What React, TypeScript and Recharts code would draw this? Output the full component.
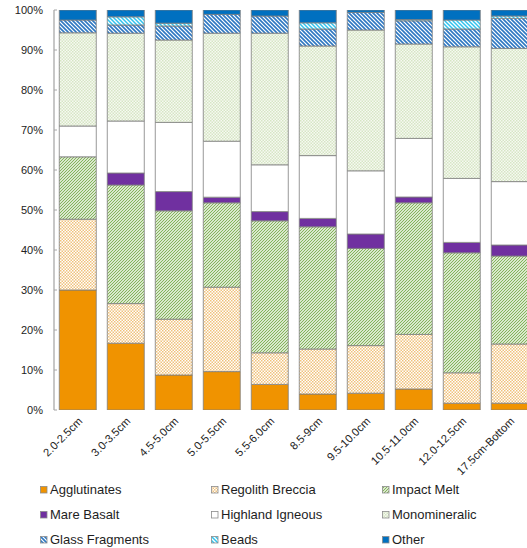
import React from "react";
import { Bar, BarChart, XAxis, YAxis } from "recharts";

// Depth intervals down the core
const depths = [
  "2.0-2.5cm",
  "3.0-3.5cm",
  "4.5-5.0cm",
  "5.0-5.5cm",
  "5.5-6.0cm",
  "8.5-9cm",
  "9.5-10.0cm",
  "10.5-11.0cm",
  "12.0-12.5cm",
  "17.5cm-Bottom",
];

// Percent of particles per component type, one value per depth
const agglutinates = [30, 16.7, 8.75, 9.6, 6.4, 4, 4.2, 5.25, 1.7, 1.7];
const regolithBreccia = [17.7, 9.9, 13.95, 21.1, 7.9, 11.25, 11.9, 13.65, 7.6, 14.8];
const impactMelt = [15.6, 29.65, 27.1, 21.1, 33.0, 30.55, 24.3, 32.9, 30.0, 22.0];
const mareBasalt = [0, 3.0, 4.8, 1.4, 2.3, 2.1, 3.6, 1.45, 2.6, 2.75];
const highlandIgneous = [7.7, 13.0, 17.3, 14.0, 11.7, 15.7, 15.8, 14.65, 16.0, 15.85];
const monomineralic = [23.3, 21.95, 20.6, 27.0, 32.9, 27.4, 35.2, 23.6, 32.9, 33.3];
const glassFragments = [3.2, 2.05, 3.5, 4.7, 4.3, 4.25, 4.4, 5.8, 4.45, 7.5];
const beads = [0, 2.05, 0.7, 0, 0, 1.55, 0, 0.3, 2.25, 0.6];
const other = [2.5, 1.7, 3.3, 1.1, 1.5, 3.2, 0.6, 2.4, 2.5, 1.5];

const yTicks = [0, 10, 20, 30, 40, 50, 60, 70, 80, 90, 100];
const boundaryTicks = [0, 1, 2, 3, 4, 5, 6, 7, 8, 9, 10];

const series = [
  { key: "agg", name: "Agglutinates", values: agglutinates, fill: "#F09300" },
  { key: "reg", name: "Regolith Breccia", values: regolithBreccia, fill: "url(#pat-breccia)" },
  { key: "melt", name: "Impact Melt", values: impactMelt, fill: "url(#pat-melt)" },
  { key: "mare", name: "Mare Basalt", values: mareBasalt, fill: "#7030A0" },
  { key: "high", name: "Highland Igneous", values: highlandIgneous, fill: "#FFFFFF" },
  { key: "mono", name: "Monomineralic", values: monomineralic, fill: "url(#pat-mono)" },
  { key: "glass", name: "Glass Fragments", values: glassFragments, fill: "url(#pat-glass)" },
  { key: "beads", name: "Beads", values: beads, fill: "url(#pat-beads)" },
  { key: "other", name: "Other", values: other, fill: "#0070C0" },
];

const rows = depths.map((depth, i) => {
  const row: Record<string, string | number> = { depth };
  series.forEach((s) => {
    row[s.key] = s.values[i];
  });
  return row;
});

const FONT = "'Liberation Sans', Arial, sans-serif";

function DepthTick(props: any) {
  const { x, y, payload } = props;
  const ax = x + 5;
  const ay = y + 4;
  return (
    <text
      x={ax}
      y={ay}
      transform={`rotate(-45 ${ax} ${ay})`}
      textAnchor="end"
      fontSize={11.2}
      fontFamily={FONT}
      fill="#222"
    >
      {payload.value}
    </text>
  );
}

// Fill patterns for the hatched / dotted components
function Patterns() {
  return (
    <defs>
      <pattern id="pat-breccia" width="3" height="3" patternUnits="userSpaceOnUse">
        <rect width="3" height="3" fill="#FFFFFF" />
        <rect width="1.5" height="1.5" fill="#F0C27C" />
        <rect x="1.5" y="1.5" width="1.5" height="1.5" fill="#F0C27C" />
      </pattern>
      <pattern id="pat-mono" width="3" height="3" patternUnits="userSpaceOnUse">
        <rect width="3" height="3" fill="#F6F9F2" />
        <rect width="1.5" height="1.5" fill="#D6E6C4" />
        <rect x="1.5" y="1.5" width="1.5" height="1.5" fill="#D6E6C4" />
      </pattern>
      <pattern id="pat-melt" width="3" height="3" patternUnits="userSpaceOnUse">
        <rect width="3" height="3" fill="#FFFFFF" />
        <path d="M0,3 L3,0 M-1,1 L1,-1 M2,4 L4,2" stroke="#7DB052" strokeWidth={1.1} />
      </pattern>
      <pattern id="pat-glass" width="4" height="4" patternUnits="userSpaceOnUse">
        <rect width="4" height="4" fill="#FFFFFF" />
        <path d="M0,0 L4,4 M-1,3 L1,5 M3,-1 L5,1" stroke="#2E78C2" strokeWidth={1.6} />
      </pattern>
      <pattern id="pat-beads" width="4" height="4" patternUnits="userSpaceOnUse">
        <rect width="4" height="4" fill="#FFFFFF" />
        <path d="M0,0 L4,4 M-1,3 L1,5 M3,-1 L5,1" stroke="#30C3EE" strokeWidth={1.5} />
      </pattern>
    </defs>
  );
}

function LegendGrid() {
  const cols = [40, 211, 382];
  const rowsY = [482, 507, 532];
  return (
    <>
      {series.map((s, i) => (
        <div
          key={s.key}
          style={{
            position: "absolute",
            left: cols[i % 3],
            top: rowsY[Math.floor(i / 3)],
            display: "flex",
            alignItems: "center",
            fontFamily: FONT,
            fontSize: 13,
            color: "#1E1E1E",
            whiteSpace: "nowrap",
            lineHeight: "15px",
          }}
        >
          <svg width={8} height={8} style={{ marginRight: 2 }}>
            <rect x={0.5} y={0.5} width={6.5} height={6.5} fill={s.fill} stroke="#8C8C8C" strokeWidth={0.8} />
          </svg>
          {s.name}
        </div>
      ))}
    </>
  );
}

export default function App() {
  return (
    <div
      style={{
        position: "absolute",
        left: 0,
        top: 0,
        width: 527,
        height: 548,
        overflow: "hidden",
        background: "#FFFFFF",
      }}
    >
      <BarChart
        width={545}
        height={548}
        data={rows}
        margin={{ top: 10, right: 11, left: 0, bottom: 0 }}
        barCategoryGap="11%"
      >
        <Patterns />
        <XAxis
          xAxisId="bounds"
          type="number"
          domain={[0, 10]}
          ticks={boundaryTicks}
          height={0}
          tickSize={-4}
          tick={() => <g />}
          tickLine={{ stroke: "#A0A0A0" }}
          axisLine={{ stroke: "#A0A0A0" }}
          allowDataOverflow
        />
        <XAxis
          dataKey="depth"
          height={138}
          interval={0}
          tickLine={false}
          axisLine={false}
          tick={<DepthTick />}
        />
        <YAxis
          width={54}
          domain={[0, 100]}
          ticks={yTicks}
          tickFormatter={(v: number) => `${v}%`}
          tickSize={-3}
          tickMargin={14}
          tick={{ fontSize: 11, fill: "#222", fontFamily: FONT }}
          tickLine={{ stroke: "#A6A6A6" }}
          axisLine={{ stroke: "#B5B5B5", strokeWidth: 1.5 }}
          allowDataOverflow
        />
        {series.map((s) => (
          <Bar
            key={s.key}
            dataKey={s.key}
            name={s.name}
            stackId="core"
            fill={s.fill}
            stroke="#7F7F7F"
            strokeWidth={0.8}
            isAnimationActive={false}
          />
        ))}
      </BarChart>
      <LegendGrid />
    </div>
  );
}
